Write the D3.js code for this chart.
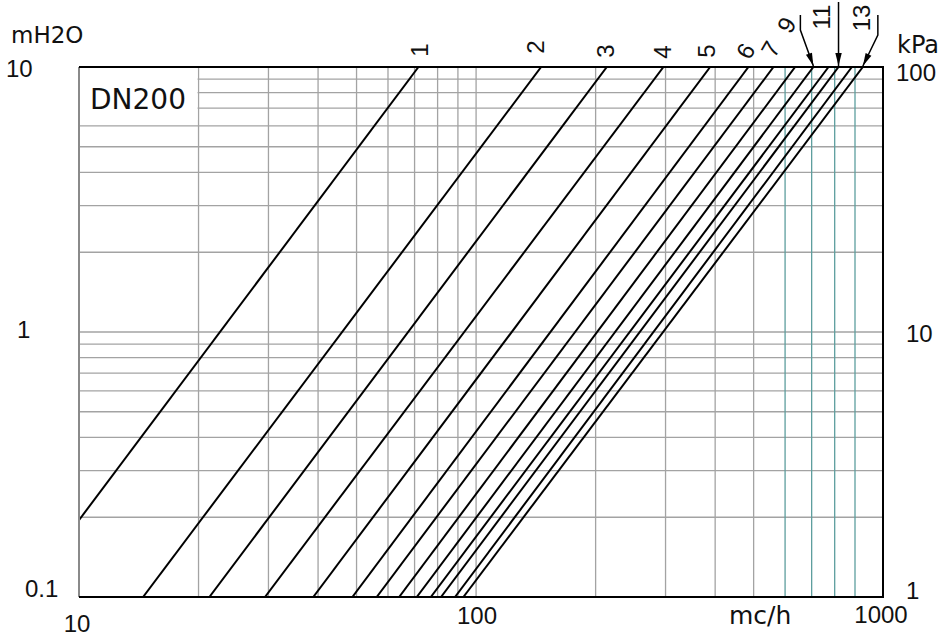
<!DOCTYPE html>
<html>
<head>
<meta charset="utf-8">
<script src="https://cdn.jsdelivr.net/npm/d3@7"></script>
<style>
  body { margin: 0; background: #fff; }
  svg text { fill: #111; }
</style>
</head>
<body>
<svg id="chart" width="945" height="641"></svg>
<script>
// Valve opening positions, one pressure-drop curve each
const positions = ["1", "2", "3", "4", "5", "6", "7", "8", "9", "10", "11", "12", "13"];
// Flow (m³/h) at which each curve reaches 10 mH2O
const flowAtTop = [71.6, 145.8, 213.4, 296.4, 388.6, 485.2, 561, 636, 707, 772, 818, 884, 927];
// Flow (m³/h) at which each curve is at 0.1 mH2O
const flowAtBottom = [7.16, 14.5, 21.3, 29.4, 38.9, 48.8, 56.2, 64.0, 70.9, 76.9, 81.6, 88.5, 92.9];
// Positions that carry a label above the chart
const labelledPositions = ["1", "2", "3", "4", "5", "6", "7", "9", "11", "13"];

const xTicks = [10, 100, 1000];          // mc/h
const yTicksLeft = [0.1, 1, 10];         // mH2O
const yTicksRight = [1, 10, 100];        // kPa
const xGridGray = [20, 30, 40, 50, 60, 70, 80, 90, 100, 200, 300, 400, 500];
const xGridTeal = [600, 700, 800, 900];
const yGrid = [0.2, 0.3, 0.4, 0.5, 0.6, 0.7, 0.8, 0.9, 1, 2, 3, 4, 5, 6, 7, 8, 9];

(function () {
const svg = d3.select("#chart");
const pL = 79, pR = 883, pT = 67, pB = 597;

// Flow axis: log decades, last short step stretched to the frame
const x = d3.scaleLog().domain([10, 900, 1000]).range([pL, 855, pR]);
const y = d3.scaleLog().domain([0.1, 10]).range([pB, pT]);

const numFont = "'Liberation Sans', Arial, sans-serif";
const txtFont = "'DejaVu Sans', sans-serif";

// Grid
const grid = svg.append("g");
grid.selectAll("line.h").data(yGrid).join("line").attr("class", "h")
  .attr("x1", pL).attr("x2", pR)
  .attr("y1", d => y(d)).attr("y2", d => y(d))
  .attr("stroke", "#a3a3a3").attr("stroke-width", 1.3);
grid.selectAll("line.vg").data(xGridGray).join("line").attr("class", "vg")
  .attr("x1", d => x(d)).attr("x2", d => x(d))
  .attr("y1", pT).attr("y2", pB)
  .attr("stroke", "#a3a3a3").attr("stroke-width", 1.3);
grid.selectAll("line.vt").data(xGridTeal).join("line").attr("class", "vt")
  .attr("x1", d => x(d)).attr("x2", d => x(d))
  .attr("y1", pT).attr("y2", pB)
  .attr("stroke", "#5d9e9e").attr("stroke-width", 1.3);

// Title box
svg.append("rect").attr("x", pL + 1).attr("y", pT + 1)
  .attr("width", x(20) - pL - 2).attr("height", 52).attr("fill", "#fff");
svg.append("text").attr("x", 90).attr("y", 109)
  .style("font-family", txtFont).style("font-size", "28px").text("DN200");

// Curves
svg.append("clipPath").attr("id", "plot-clip").append("rect")
  .attr("x", pL).attr("y", pT).attr("width", pR - pL).attr("height", pB - pT);
const curves = positions.map((p, i) => ({
  name: p,
  pts: [[flowAtBottom[i], 0.1], [flowAtTop[i], 10]]
}));
const line = d3.line().x(d => x(d[0])).y(d => y(d[1]));
svg.append("g").attr("clip-path", "url(#plot-clip)")
  .selectAll("path").data(curves).join("path")
  .attr("d", d => line(d.pts))
  .attr("fill", "none").attr("stroke", "#000").attr("stroke-width", 2);

// Frame
svg.append("line").attr("x1", pL).attr("x2", pL).attr("y1", pT).attr("y2", pB)
  .attr("stroke", "#8a8a8a").attr("stroke-width", 2);
svg.append("path")
  .attr("d", `M${pL},${pT}H${pR}V${pB}H${pL}`)
  .attr("fill", "none").attr("stroke", "#000").attr("stroke-width", 2);

// Position labels above the curves
const labelStyle = {
  "1": { dx: 1, y: 50, rot: -90 },
  "2": { dx: -6, y: 47, rot: -90 },
  "3": { dx: -1, y: 51, rot: -90 },
  "4": { dx: -1, y: 52, rot: -90 },
  "5": { dx: -4, y: 51, rot: -90 },
  "6": { dx: -3, y: 51, rot: -60 },
  "7": { dx: -3, y: 49, rot: -60 },
  "9": { dx: -27, y: 25, rot: -60, leader: [[-13, 15], [-13, 30]] },
  "11": { dx: -17, y: 17, rot: -90, leader: [[0, 2]] },
  "13": { dx: -1, y: 18, rot: -90, leader: [[15, 15], [15, 35]] }
};
const lab = svg.append("g");
labelledPositions.forEach(p => {
  const i = positions.indexOf(p);
  const tipX = x(flowAtTop[i]), tipY = y(10);
  const s = labelStyle[p];
  lab.append("text")
    .attr("transform", `translate(${tipX + s.dx},${s.y}) rotate(${s.rot})`)
    .attr("text-anchor", "middle").attr("dominant-baseline", "central")
    .style("font-family", numFont).style("font-size", "24px").text(p);
  if (s.leader) {
    const pts = s.leader.map(d => [tipX + d[0], d[1]]).concat([[tipX, tipY - 1]]);
    lab.append("path").attr("d", d3.line()(pts))
      .attr("fill", "none").attr("stroke", "#000").attr("stroke-width", 1.5);
    const a = pts[pts.length - 2], b = pts[pts.length - 1];
    const ang = Math.atan2(b[1] - a[1], b[0] - a[0]);
    const L = 13, W = 3.2;
    const bx = b[0] - L * Math.cos(ang), by = b[1] - L * Math.sin(ang);
    const nx = -Math.sin(ang) * W, ny = Math.cos(ang) * W;
    lab.append("path")
      .attr("d", `M${b[0]},${b[1]}L${bx + nx},${by + ny}L${bx - nx},${by - ny}Z`)
      .attr("fill", "#000");
  }
});

// Axis labels
const leftPos = { 0.1: [25, 597], 1: [17, 338], 10: [6, 77] };
svg.append("g").selectAll("text").data(yTicksLeft).join("text")
  .attr("x", d => leftPos[d][0]).attr("y", d => leftPos[d][1])
  .style("font-family", numFont).style("font-size", "24px")
  .text(d => d3.format("~g")(d));
const rightPos = { 1: [906, 599], 10: [906, 342], 100: [896, 81] };
svg.append("g").selectAll("text").data(yTicksRight).join("text")
  .attr("x", d => rightPos[d][0]).attr("y", d => rightPos[d][1])
  .style("font-family", numFont).style("font-size", "24px")
  .text(d => d);
const bottomPos = { 10: [77, 632], 100: [477, 624], 1000: [881, 623] };
svg.append("g").selectAll("text").data(xTicks).join("text")
  .attr("x", d => bottomPos[d][0]).attr("y", d => bottomPos[d][1])
  .attr("text-anchor", "middle")
  .style("font-family", numFont).style("font-size", "24px")
  .text(d => d);

svg.append("text").attr("x", 11).attr("y", 43)
  .style("font-family", txtFont).style("font-size", "23px").text("mH2O");
svg.append("text").attr("x", 897).attr("y", 53)
  .style("font-family", txtFont).style("font-size", "24px").text("kPa");
svg.append("text").attr("x", 729).attr("y", 624)
  .style("font-family", txtFont).style("font-size", "25px").text("mc/h");
})();
</script>
</body>
</html>
